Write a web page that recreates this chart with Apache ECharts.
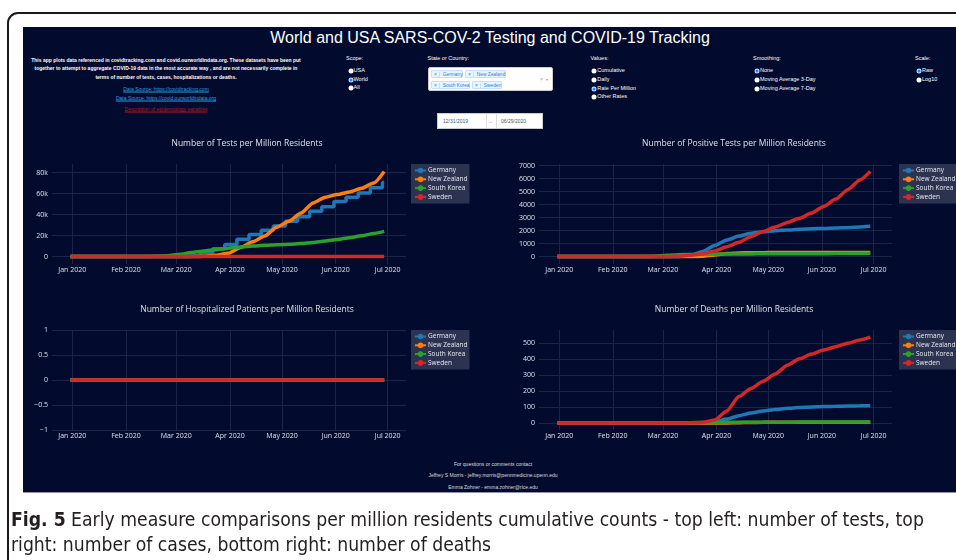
<!DOCTYPE html>
<html>
<head>
<meta charset="utf-8">
<script src="https://cdn.jsdelivr.net/npm/echarts@6/dist/echarts.min.js"></script>
<style>
  html, body { margin: 0; padding: 0; background: #fff; }
  #page { position: relative; width: 956px; height: 560px; overflow: hidden; background: #fff;
          font-family: "Liberation Sans", Arial, sans-serif; }
  .frame { position: absolute; left: 7px; top: 12px; width: 1000px; height: 600px;
           border: 2px solid #1a1a1a; border-radius: 11px; }
  .panel { position: absolute; left: 23px; top: 27px; width: 933px; height: 465px;
           background: #020b2e; border-bottom: 1px solid #8e93a6; }
  #chart { position: absolute; left: 0; top: 0; width: 956px; height: 560px; }
  .t { position: absolute; color: #fff; white-space: nowrap; line-height: 1; }
  .c { transform: translate(-50%, -50%); }
  .m { transform: translateY(-50%); }
  .desc { font-size: 5px; font-weight: bold; }
  .lnk { text-decoration: underline; font-size: 5px; }
  .lbl { font-size: 5.5px; }
  .rb { position: absolute; width: 5px; height: 5px; border-radius: 50%; background: #fff;
        transform: translate(-50%, -50%); }
  .rb.on { background: #2b86f0; box-shadow: inset 0 0 0 1px #cfe3ff; }
  .sel { position: absolute; left: 428px; top: 67px; width: 125px; height: 24px; background: #fff;
         border: 1px solid #ccc; border-radius: 2px; box-sizing: border-box; }
  .tag { position: absolute; height: 8px; background: #ebf5ff; border: 1px solid #c2e0ff;
         border-radius: 1px; box-sizing: border-box; color: #1f7fe0; font-size: 4.8px;
         line-height: 7px; padding-left: 2px; white-space: nowrap; }
  .tag i { font-style: normal; margin-right: 3px; border-right: 1px solid #c2e0ff; padding-right: 2px; }
  .dates { position: absolute; left: 437px; top: 113px; width: 106px; height: 16px; background: #fff;
           border: 1px solid #ccc; box-sizing: border-box; font-size: 5px; color: #555; }
  .cap { position: absolute; left: 11px; top: 507px; color: #231f20; font-size: 19.2px; line-height: 25px;
         font-family: "Liberation Sans Narrow", "DejaVu Sans Condensed", sans-serif; white-space: nowrap; }
</style>
</head>
<body>
<div id="page">
  <div class="frame"></div>
  <div class="panel"></div>

  <div class="t c" style="left:490px; top:38px; font-size:16px; color:#fff;">World and USA SARS-COV-2 Testing and COVID-19 Tracking</div>

  <div class="t c desc" style="left:166px; top:59.5px;">This app plots data referenced in covidtracking.com and covid.ourworldindata.org. These datasets have been put</div>
  <div class="t c desc" style="left:166px; top:68.3px;">together to attempt to aggregate COVID-19 data in the most accurate way , and are not necessarily complete in</div>
  <div class="t c desc" style="left:166px; top:77px;">terms of number of tests, cases, hospitalizations or deaths.</div>
  <div class="t c lnk" style="left:166px; top:89px; color:#2a9fe0;">Data Source: https://covidtracking.com</div>
  <div class="t c lnk" style="left:166px; top:97.7px; color:#2a9fe0;">Data Source: https://covid.ourworldindata.org</div>
  <div class="t c lnk" style="left:166px; top:109.3px; color:#b3191d;">Description of epidemiology variables</div>

  <div class="t m lbl" style="left:346px; top:59.3px;">Scope:</div>
  <span class="rb" style="left:350.5px; top:71px;"></span><div class="t m lbl" style="left:353.5px; top:71px;">USA</div>
  <span class="rb on" style="left:350.5px; top:79.7px;"></span><div class="t m lbl" style="left:353.5px; top:79.7px;">World</div>
  <span class="rb" style="left:350.5px; top:88.3px;"></span><div class="t m lbl" style="left:353.5px; top:88.3px;">All</div>

  <div class="t m lbl" style="left:427.5px; top:59.3px;">State or Country:</div>
  <div class="sel">
    <div class="tag" style="left:2px; top:2px; width:32px;"><i>×</i>Germany</div>
    <div class="tag" style="left:36px; top:2px; width:41px;"><i>×</i>New Zealand</div>
    <div class="tag" style="left:2px; top:13px; width:39px;"><i>×</i>South Korea</div>
    <div class="tag" style="left:43px; top:13px; width:30px;"><i>×</i>Sweden</div>
    <div class="t" style="left:111px; top:9px; font-size:5px; color:#999;">×</div>
    <div class="t" style="left:117px; top:9.5px; font-size:4px; color:#999;">▾</div>
  </div>

  <div class="dates">
    <div class="t" style="left:5px; top:5px; color:#555;">12/31/2019</div>
    <div style="position:absolute; left:48px; top:0; width:1px; height:14px; background:#ddd;"></div>
    <div class="t" style="left:50px; top:5px; color:#888;">→</div>
    <div style="position:absolute; left:58px; top:0; width:1px; height:14px; background:#ddd;"></div>
    <div class="t" style="left:63px; top:5px; color:#555;">06/29/2020</div>
  </div>

  <div class="t m lbl" style="left:590.5px; top:59.3px;">Values:</div>
  <span class="rb" style="left:594px; top:71px;"></span><div class="t m lbl" style="left:597.3px; top:71px;">Cumulative</div>
  <span class="rb" style="left:594px; top:79.8px;"></span><div class="t m lbl" style="left:597.3px; top:79.8px;">Daily</div>
  <span class="rb on" style="left:594px; top:88.7px;"></span><div class="t m lbl" style="left:597.3px; top:88.7px;">Rate Per Million</div>
  <span class="rb" style="left:594px; top:97.3px;"></span><div class="t m lbl" style="left:597.3px; top:97.3px;">Other Rates</div>

  <div class="t m lbl" style="left:753px; top:59.3px;">Smoothing:</div>
  <span class="rb on" style="left:756.5px; top:71px;"></span><div class="t m lbl" style="left:760px; top:71px;">None</div>
  <span class="rb" style="left:756.5px; top:79.8px;"></span><div class="t m lbl" style="left:760px; top:79.8px;">Moving Average 3-Day</div>
  <span class="rb" style="left:756.5px; top:88.7px;"></span><div class="t m lbl" style="left:760px; top:88.7px;">Moving Average 7-Day</div>

  <div class="t m lbl" style="left:915px; top:59.3px;">Scale:</div>
  <span class="rb on" style="left:919px; top:71px;"></span><div class="t m lbl" style="left:922px; top:71px;">Raw</div>
  <span class="rb" style="left:919px; top:79.8px;"></span><div class="t m lbl" style="left:922px; top:79.8px;">Log10</div>

  <div class="t c lbl" style="left:493px; top:464px; color:#ddd; font-size:5px;">For questions or comments contact</div>
  <div class="t c lbl" style="left:493px; top:475px; color:#ddd; font-size:5px;">Jeffrey S Morris - jeffrey.morris@pennmedicine.upenn.edu</div>
  <div class="t c lbl" style="left:493px; top:486.7px; color:#ddd; font-size:5px;">Emma Zohner - emma.zohner@rice.edu</div>

  <div id="chart"></div>

  <div class="cap"><b>Fig. 5</b> Early measure comparisons per million residents cumulative counts - top left: number of tests, top<br>right: number of cases, bottom right: number of deaths</div>
</div>

<script>
// weekly sample dates
const weekDates = ['2019-12-31', '2020-01-07', '2020-01-14', '2020-01-21', '2020-01-28', '2020-02-04',
  '2020-02-11', '2020-02-18', '2020-02-25', '2020-03-03', '2020-03-10', '2020-03-17', '2020-03-24',
  '2020-03-31', '2020-04-07', '2020-04-14', '2020-04-21', '2020-04-28', '2020-05-05', '2020-05-12',
  '2020-05-19', '2020-05-26', '2020-06-02', '2020-06-09', '2020-06-16', '2020-06-23', '2020-06-29']
// Germany reports tests weekly, so it gets its own dates (step line)
const germanyTestDates = ['2019-12-31', '2020-03-01', '2020-03-08', '2020-03-15', '2020-03-22', '2020-03-29',
  '2020-04-05', '2020-04-12', '2020-04-19', '2020-04-26', '2020-05-03', '2020-05-10', '2020-05-17',
  '2020-05-24', '2020-05-31', '2020-06-07', '2020-06-14', '2020-06-21', '2020-06-28', '2020-06-29']

const countries = ['Germany', 'New Zealand', 'South Korea', 'Sweden']
const colors = ['#1f77b4', '#ff7f0e', '#2ca02c', '#d62728']

// tests per million
const germanyTests = [0, 100, 1200, 3500, 7300, 11500, 16500, 21000, 25000, 29000, 33500, 38000, 43000,
  47500, 52500, 56500, 60500, 65500, 70500, 70500]
const nzTests = [0, 0, 0, 0, 0, 0, 0, 0, 0, 0, 0, 300, 1200, 3200, 8500, 14000, 19500, 28000, 33500,
  41500, 51000, 56500, 59000, 61500, 65000, 70000, 81000]
const koreaTests = [0, 0, 0, 0, 0, 10, 50, 200, 800, 2100, 3800, 5300, 6500, 8000, 9000, 10000, 10700,
  11300, 11800, 12300, 13400, 14700, 16200, 18000, 19800, 22000, 24000]
const swedenTests = [0, 0, 0, 0, 0, 0, 0, 0, 0, 0, 0, 0, 0, 0, 0, 0, 0, 0, 0, 0, 0, 0, 0, 0, 0, 0, 0]

// positive tests per million
const germanyCases = [0, 0, 0, 0, 0, 0, 0, 0, 0, 2, 15, 90, 390, 860, 1280, 1580, 1790, 1910, 1990,
  2050, 2100, 2140, 2170, 2200, 2230, 2280, 2330]
const nzCases = [0, 0, 0, 0, 0, 0, 0, 0, 0, 0, 0, 2, 30, 130, 230, 280, 300, 305, 307, 308, 308, 308,
  308, 308, 309, 310, 312]
const koreaCases = [0, 0, 0, 0, 0, 0, 0, 1, 20, 100, 145, 162, 175, 190, 200, 206, 209, 211, 212, 212,
  215, 218, 222, 230, 238, 245, 250]
const swedenCases = [0, 0, 0, 0, 0, 0, 0, 0, 0, 2, 33, 110, 220, 440, 760, 1100, 1540, 1930, 2270,
  2630, 2950, 3350, 3860, 4430, 5150, 5900, 6560]

// hospitalized per million (no data -> zero)
const germanyHosp = [0, 0, 0, 0, 0, 0, 0, 0, 0, 0, 0, 0, 0, 0, 0, 0, 0, 0, 0, 0, 0, 0, 0, 0, 0, 0, 0]
const nzHosp = [0, 0, 0, 0, 0, 0, 0, 0, 0, 0, 0, 0, 0, 0, 0, 0, 0, 0, 0, 0, 0, 0, 0, 0, 0, 0, 0]
const koreaHosp = [0, 0, 0, 0, 0, 0, 0, 0, 0, 0, 0, 0, 0, 0, 0, 0, 0, 0, 0, 0, 0, 0, 0, 0, 0, 0, 0]
const swedenHosp = [0, 0, 0, 0, 0, 0, 0, 0, 0, 0, 0, 0, 0, 0, 0, 0, 0, 0, 0, 0, 0, 0, 0, 0, 0, 0, 0]

// deaths per million
const germanyDeaths = [0, 0, 0, 0, 0, 0, 0, 0, 0, 0, 0, 0.3, 1.5, 8, 24, 45, 62, 75, 84, 91, 96, 99,
  102, 104, 105, 107, 108]
const nzDeaths = [0, 0, 0, 0, 0, 0, 0, 0, 0, 0, 0, 0, 0, 0.2, 0.4, 2, 2.5, 3.9, 4.1, 4.3, 4.5, 4.5,
  4.5, 4.5, 4.5, 4.5, 4.5]
const koreaDeaths = [0, 0, 0, 0, 0, 0, 0, 0, 0.2, 0.6, 1, 1.7, 2.4, 3.1, 3.7, 4.1, 4.5, 4.7, 4.9, 5.0,
  5.2, 5.3, 5.4, 5.5, 5.5, 5.6, 5.6]
const swedenDeaths = [0, 0, 0, 0, 0, 0, 0, 0, 0, 0, 0, 0.5, 3, 18, 75, 165, 215, 260, 305, 360, 400,
  430, 455, 476, 498, 518, 536]

// tick labels
const monthTicks = ['2020-01-01', '2020-02-01', '2020-03-01', '2020-04-01', '2020-05-01', '2020-06-01', '2020-07-01']
const monthLabels = ['Jan 2020', 'Feb 2020', 'Mar 2020', 'Apr 2020', 'May 2020', 'Jun 2020', 'Jul 2020']
const testsTicks = [0, 20000, 40000, 60000, 80000]
const testsTickLabels = ['0', '20k', '40k', '60k', '80k']
const casesTicks = [0, 1000, 2000, 3000, 4000, 5000, 6000, 7000]
const casesTickLabels = ['0', '1000', '2000', '3000', '4000', '5000', '6000', '7000']
const hospTicks = [-1, -0.5, 0, 0.5, 1]
const hospTickLabels = ['\u22121', '\u22120.5', '0', '0.5', '1']
const deathsTicks = [0, 100, 200, 300, 400, 500]
const deathsTickLabels = ['0', '100', '200', '300', '400', '500']

const chartTitles = ['Number of Tests per Million Residents', 'Number of Positive Tests per Million Residents',
  'Number of Hospitalized Patients per Million Residents', 'Number of Deaths per Million Residents']

const chart = echarts.init(document.getElementById('chart'), null, { renderer: 'canvas' })

const textColor = '#dde1ec'
const gridColor = '#1b2547'
const font = 'Open Sans'
// dates become timestamps on a value axis so month ticks can be placed exactly
const toTime = s => +echarts.time.parse(s)
const monthTickValues = monthTicks.map(toTime)
const xMin = toTime('2019-12-20 07:00:00')
const xMax = toTime('2020-07-11 14:00:00')

const grids = [
  { left: 52, top: 164, width: 354, height: 100 },
  { left: 539, top: 164, width: 353, height: 100 },
  { left: 52, top: 330, width: 354, height: 100 },
  { left: 539, top: 330, width: 353, height: 100 }
]
const yRanges = [[-7100, 88100], [-570, 7130], [-1, 1], [-44, 580]]
const yTicks = [testsTicks, casesTicks, hospTicks, deathsTicks]
const yLabels = [testsTickLabels, casesTickLabels, hospTickLabels, deathsTickLabels]

function pair(dates, values) {
  return dates.map((d, i) => [toTime(d), values[i]])
}

function makeSeries(gridIdx, name, dates, values, extra) {
  const c = colors[countries.indexOf(name)]
  return Object.assign({
    type: 'line',
    name: name,
    xAxisIndex: gridIdx,
    yAxisIndex: gridIdx,
    data: pair(dates, values),
    symbol: 'circle',
    symbolSize: 4,
    showSymbol: false,
    smooth: 0.2,
    smoothMonotone: 'x',
    lineStyle: { width: 3.5, color: c },
    itemStyle: { color: c },
    animation: false
  }, extra || {})
}

const series = [
  makeSeries(0, 'Germany', germanyTestDates, germanyTests, { step: 'end', smooth: false }),
  makeSeries(0, 'New Zealand', weekDates, nzTests),
  makeSeries(0, 'South Korea', weekDates, koreaTests),
  makeSeries(0, 'Sweden', weekDates, swedenTests),
  makeSeries(1, 'Germany', weekDates, germanyCases),
  makeSeries(1, 'New Zealand', weekDates, nzCases),
  makeSeries(1, 'South Korea', weekDates, koreaCases),
  makeSeries(1, 'Sweden', weekDates, swedenCases),
  makeSeries(2, 'Germany', weekDates, germanyHosp),
  makeSeries(2, 'New Zealand', weekDates, nzHosp),
  makeSeries(2, 'South Korea', weekDates, koreaHosp),
  makeSeries(2, 'Sweden', weekDates, swedenHosp),
  makeSeries(3, 'Germany', weekDates, germanyDeaths),
  makeSeries(3, 'New Zealand', weekDates, nzDeaths),
  makeSeries(3, 'South Korea', weekDates, koreaDeaths),
  makeSeries(3, 'Sweden', weekDates, swedenDeaths)
]

const titlePos = [[247, 139.5], [734, 139.5], [247, 305.5], [734, 305.5]]
const legendPos = [[411, 164], [899, 164], [411, 330], [899, 330]]

const option = {
  animation: false,
  textStyle: { fontFamily: font },
  title: chartTitles.map((t, i) => ({
    text: t,
    left: titlePos[i][0],
    top: titlePos[i][1],
    textAlign: 'center',
    padding: 0,
    textStyle: { color: textColor, fontSize: 8.5, fontWeight: 'normal', fontFamily: font }
  })),
  legend: legendPos.map(p => ({
    data: countries,
    orient: 'vertical',
    left: p[0],
    top: p[1],
    backgroundColor: '#2c3350',
    padding: [3, 2, 3, 3],
    itemWidth: 11,
    itemHeight: 7,
    itemGap: 1.8,
    selectedMode: false,
    textStyle: { color: '#e8eaf2', fontSize: 6.5, fontFamily: font, padding: [0, 0, 0, -3] }
  })),
  grid: grids.map(g => Object.assign({ containLabel: false }, g)),
  xAxis: grids.map((g, i) => ({
    type: 'value',
    gridIndex: i,
    min: xMin,
    max: xMax,
    axisLine: { show: false },
    axisTick: { show: false, customValues: monthTickValues },
    axisLabel: {
      customValues: monthTickValues,
      color: textColor,
      fontSize: 7,
      fontFamily: font,
      margin: 2.5,
      formatter: (v) => {
        const k = monthTickValues.findIndex(m => Math.abs(m - v) < 3600000)
        return k >= 0 ? monthLabels[k] : ''
      }
    },
    splitLine: { show: true, lineStyle: { color: gridColor, width: 1 } }
  })),
  yAxis: grids.map((g, i) => ({
    type: 'value',
    gridIndex: i,
    min: yRanges[i][0],
    max: yRanges[i][1],
    axisLine: { show: false },
    axisTick: { show: false, customValues: yTicks[i] },
    axisLabel: {
      customValues: yTicks[i],
      color: textColor,
      fontSize: 7,
      fontFamily: font,
      margin: 4,
      formatter: (v) => {
        const k = yTicks[i].findIndex(t => Math.abs(t - v) < 1e-6)
        return k >= 0 ? yLabels[i][k] : ''
      }
    },
    splitLine: { show: true, lineStyle: { color: gridColor, width: 1 } }
  })),
  series: series
}

chart.setOption(option)
</script>
</body>
</html>
